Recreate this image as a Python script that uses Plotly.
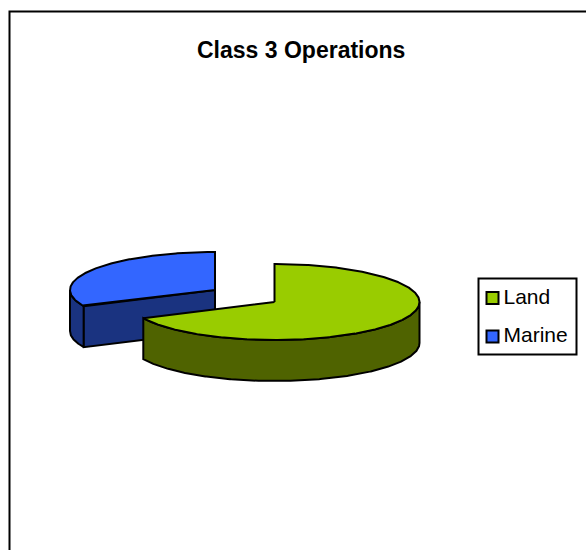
import numpy as np
import plotly.graph_objects as go

# Data
categories = ["Land", "Marine"]
shares = [68, 32]
top_colors = ["#99CC00", "#3366FF"]
side_colors = ["#4F6300", "#1A3380"]
title_text = "Class 3 Operations"

# Pie geometry, in the pixel frame of the picture
RX, RY, DEPTH = 145, 38, 41
CENTERS = {"Land": (274.5, 302), "Marine": (215, 290)}
EDGE = 2


def rim(cx, cy, a0, a1, drop=0):
    """Rim points, angles clockwise from 12 o'clock, degrees."""
    t = np.radians(np.linspace(a0, a1, max(int(abs(a1 - a0)) * 2, 2)))
    return cx + RX * np.sin(t), cy - RY * np.cos(t) + drop


def poly(xs, ys, color, name):
    return go.Scatter(
        x=list(xs), y=list(ys), mode="lines", fill="toself", fillcolor=color,
        line=dict(color="#000000", width=EDGE), name=name, showlegend=False,
        hoverinfo="name",
    )


def side(cx, cy, a0, a1, color, name):
    x0, y0 = rim(cx, cy, a0, a1)
    x1, y1 = rim(cx, cy, a1, a0, DEPTH)
    return poly(np.r_[x0, x1, x0[0]], np.r_[y0, y1, y0[0]], color, name)


fig = go.Figure()

total = sum(shares)
split = 360 * shares[0] / total  # Land runs clockwise from 12 o'clock

# Marine, drawn first because Land overlaps it
mx, my = CENTERS["Marine"]
ex, ey = rim(mx, my, split, split)
fig.add_trace(side(mx, my, split, 270, side_colors[1], "Marine"))
fig.add_trace(poly([mx, ex[0], ex[0], mx, mx],
                   [my, ey[0], ey[0] + DEPTH, my + DEPTH, my],
                   side_colors[1], "Marine"))
tx, ty = rim(mx, my, split, 360)
fig.add_trace(poly(np.r_[mx, tx, mx], np.r_[my, ty, my], top_colors[1], "Marine"))

# Land
lx, ly = CENTERS["Land"]
fig.add_trace(side(lx, ly, 90, split, side_colors[0], "Land"))
tx, ty = rim(lx, ly, 0, split)
fig.add_trace(poly(np.r_[lx, tx, lx], np.r_[ly, ty, ly], top_colors[0], "Land"))

# Legend, laid out as in the picture
fig.add_trace(go.Scatter(
    x=[492.5, 492.5], y=[298, 336.5], mode="markers",
    marker=dict(symbol="square", size=12, color=top_colors,
                line=dict(color="#000000", width=2)),
    showlegend=False, hoverinfo="skip",
))
fig.add_trace(go.Scatter(
    x=[503.5, 503.5], y=[299, 337], mode="text",
    text=categories, textposition="middle right",
    textfont=dict(family="Liberation Sans", size=21, color="#000000"),
    showlegend=False, hoverinfo="text", cliponaxis=False,
))

fig.update_layout(
    width=586, height=550, autosize=False,
    margin=dict(l=0, r=0, t=0, b=0),
    paper_bgcolor="#FFFFFF", plot_bgcolor="#FFFFFF",
    xaxis=dict(range=[0, 586], visible=False, fixedrange=True),
    yaxis=dict(range=[550, 0], visible=False, fixedrange=True),
    showlegend=False,
    shapes=[
        dict(type="rect", x0=478.5, x1=576.5, y0=278.5, y1=354.5, xref="x", yref="y",
             line=dict(color="#000000", width=2), fillcolor="rgba(0,0,0,0)"),
        dict(type="path", path="M 9.5 550 L 9.5 11.5 L 586 11.5", xref="x", yref="y",
             line=dict(color="#000000", width=2)),
    ],
    annotations=[dict(
        text=f"<b>{title_text}</b>", x=300.5, y=50, xref="x", yref="y",
        showarrow=False, xanchor="center", yanchor="middle",
        font=dict(family="Liberation Sans", size=23, color="#000000"),
    )],
)

fig.write_html(
    "out.html",
    config=dict(displayModeBar=False),
    post_script="document.body.style.margin='0';document.documentElement.style.overflow='hidden';",
)
